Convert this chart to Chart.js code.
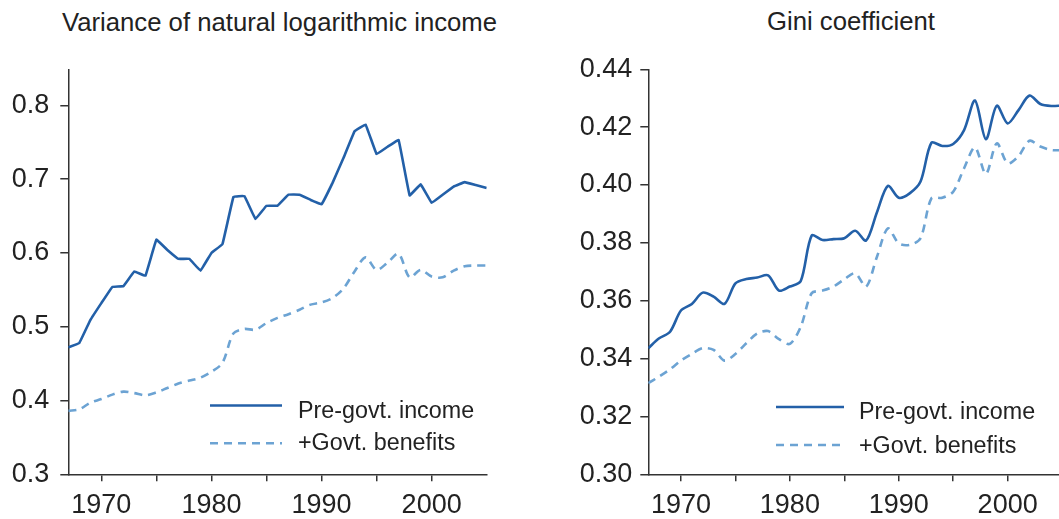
<!DOCTYPE html>
<html>
<head>
<meta charset="utf-8">
<script src="https://cdn.jsdelivr.net/npm/chart.js@4"></script>
<style>
  html, body { margin:0; padding:0; background:#fff; width:1059px; height:519px; overflow:hidden; position:relative; }
  .title { position:absolute; font-family:"Liberation Sans", Arial, sans-serif; font-size:25.7px; color:#222; white-space:nowrap; }
  #c1wrap { position:absolute; left:0; top:0; width:530px; height:519px; }
  #c2wrap { position:absolute; left:530px; top:0; width:540px; height:519px; }
</style>
</head>
<body>
<div class="title" style="left:62px; top:8px;">Variance of natural logarithmic income</div>
<div class="title" style="left:767px; top:7px;">Gini coefficient</div>
<div id="c1wrap"><canvas id="c1" width="530" height="519"></canvas></div>
<div id="c2wrap"><canvas id="c2" width="540" height="519"></canvas></div>
<script>
const years = [1967,1968,1969,1970,1971,1972,1973,1974,1975,1976,1977,1978,1979,1980,1981,1982,1983,1984,1985,1986,1987,1988,1989,1990,1991,1992,1993,1994,1995,1996,1997,1998,1999,2000,2001,2002,2003,2004,2005];
const seriesLabels = ["Pre-govt. income", "+Govt. benefits"];
const varPre = [0.472,0.478,0.509,0.532,0.554,0.555,0.575,0.569,0.618,0.604,0.592,0.592,0.576,0.600,0.612,0.676,0.677,0.646,0.664,0.664,0.679,0.679,0.672,0.666,0.695,0.729,0.765,0.774,0.734,0.744,0.753,0.678,0.693,0.668,0.679,0.690,0.696,0.692,0.688];
const varBen = [0.386,0.388,0.397,0.402,0.408,0.412,0.410,0.407,0.411,0.417,0.423,0.427,0.431,0.439,0.451,0.491,0.497,0.496,0.505,0.512,0.517,0.523,0.530,0.533,0.539,0.552,0.575,0.594,0.577,0.587,0.599,0.567,0.577,0.568,0.567,0.576,0.582,0.583,0.583];
const giniPre = [0.3436,0.3470,0.3493,0.3566,0.3589,0.3628,0.3614,0.3589,0.3660,0.3675,0.3680,0.3688,0.3635,0.3649,0.3668,0.3825,0.3810,0.3813,0.3816,0.3842,0.3808,0.3906,0.3997,0.3956,0.3971,0.4012,0.4146,0.4135,0.4142,0.4190,0.4292,0.4158,0.4274,0.4213,0.4259,0.4309,0.4280,0.4273,0.4275];
const giniBen = [0.3315,0.3338,0.3363,0.3393,0.3416,0.3436,0.3430,0.3393,0.3416,0.3453,0.3487,0.3495,0.3467,0.3451,0.3510,0.3626,0.3635,0.3649,0.3674,0.3695,0.3649,0.3752,0.3850,0.3798,0.3793,0.3816,0.3954,0.3956,0.3977,0.4058,0.4130,0.4038,0.4144,0.4075,0.4100,0.4153,0.4133,0.4121,0.4120];
const xTicks = [1970,1975,1980,1985,1990,1995,2000];
const xLabels = [1970,1980,1990,2000];
const varTicks = [0.3,0.4,0.5,0.6,0.7,0.8];
const giniTicks = [0.30,0.32,0.34,0.36,0.38,0.40,0.42,0.44];

const DARK = '#2360a8';
const LIGHT = '#6ca3d3';
const AXIS = '#333333';
const TEXT = '#222222';
const FONT = '"Liberation Sans", Arial, sans-serif';

const legendPlugin = {
  id: 'inlineLegend',
  afterDraw(chart, args, opts) {
    const ctx = chart.ctx;
    ctx.save();
    chart.data.datasets.forEach((ds, i) => {
      const y = opts.y[i];
      ctx.beginPath();
      ctx.strokeStyle = ds.borderColor;
      ctx.lineWidth = ds.borderWidth;
      ctx.setLineDash(ds.borderDash || []);
      ctx.moveTo(opts.x0, y);
      ctx.lineTo(opts.x1, y);
      ctx.stroke();
      ctx.setLineDash([]);
      ctx.fillStyle = TEXT;
      ctx.font = opts.fontSize + 'px ' + FONT;
      ctx.textBaseline = 'alphabetic';
      ctx.textAlign = 'left';
      ctx.fillText(ds.label, opts.tx, opts.base[i]);
    });
    ctx.restore();
  }
};

function makeChart(id, pre, ben, yMin, yMax, yTicks, decimals, geo, pad, legend, tPre, tBen) {
  return new Chart(document.getElementById(id), {
    type: 'line',
    data: {
      datasets: [
        { label: seriesLabels[0], data: years.map((x,i)=>({x, y: pre[i]})), borderColor: DARK, borderWidth: 2.6, pointRadius: 0, tension: tPre, fill:false },
        { label: seriesLabels[1], data: years.map((x,i)=>({x, y: ben[i]})), borderColor: LIGHT, borderWidth: 2.6, borderDash: [8,6], pointRadius: 0, tension: tBen, fill:false }
      ]
    },
    options: {
      responsive: false,
      animation: false,
      events: [],
      layout: { padding: pad },
      plugins: { legend: { display:false }, tooltip: { enabled:false }, title: { display:false }, inlineLegend: legend },
      scales: {
        x: {
          type: 'linear', min: 1967, max: 2005,
          afterFit(s) { s.height = 519 - pad.top - geo.areaH; },
          afterBuildTicks(s) { s.ticks = xTicks.map(v => ({ value: v })); },
          grid: { drawOnChartArea: false, drawTicks: true, tickLength: 7, color: AXIS, lineWidth: 1.5 },
          border: { display: true, color: AXIS, width: 1.5 },
          ticks: { color: TEXT, font: { family: FONT, size: 27 }, padding: 8, maxRotation: 0, autoSkip: false,
                   callback: (v) => xLabels.includes(v) ? String(v) : '' }
        },
        y: {
          type: 'linear', min: yMin, max: yMax,
          afterFit(s) { s.width = geo.w; },
          afterBuildTicks(s) { s.ticks = yTicks.map(v => ({ value: v })); },
          grid: { drawOnChartArea: false, drawTicks: true, tickLength: 8, color: AXIS, lineWidth: 1.5 },
          border: { display: true, color: AXIS, width: 1.5 },
          ticks: { color: TEXT, font: { family: FONT, size: 27 }, padding: geo.lp, callback: (v) => v.toFixed(decimals) }
        }
      }
    },
    plugins: [legendPlugin]
  });
}

makeChart('c1', varPre, varBen, 0.3, 0.848, varTicks, 1, { w: 68.3, areaH: 404.3, lp: 11 },
  { top: 70, left: 0, right: 43.3, bottom: 0 },
  { x0: 210, x1: 282, y: [405.5, 443.3], base: [417.5, 450], tx: 298, fontSize: 23.3 }, 0.05, 0.3);

makeChart('c2', giniPre, giniBen, 0.30, 0.44, giniTicks, 2, { w: 118.3, areaH: 405, lp: 8 },
  { top: 69.3, left: 0, right: 7.9, bottom: 0 },
  { x0: 246, x1: 314, y: [407, 445], base: [419, 452.5], tx: 329, fontSize: 23.3 }, 0.3, 0.3);
</script>
</body>
</html>
